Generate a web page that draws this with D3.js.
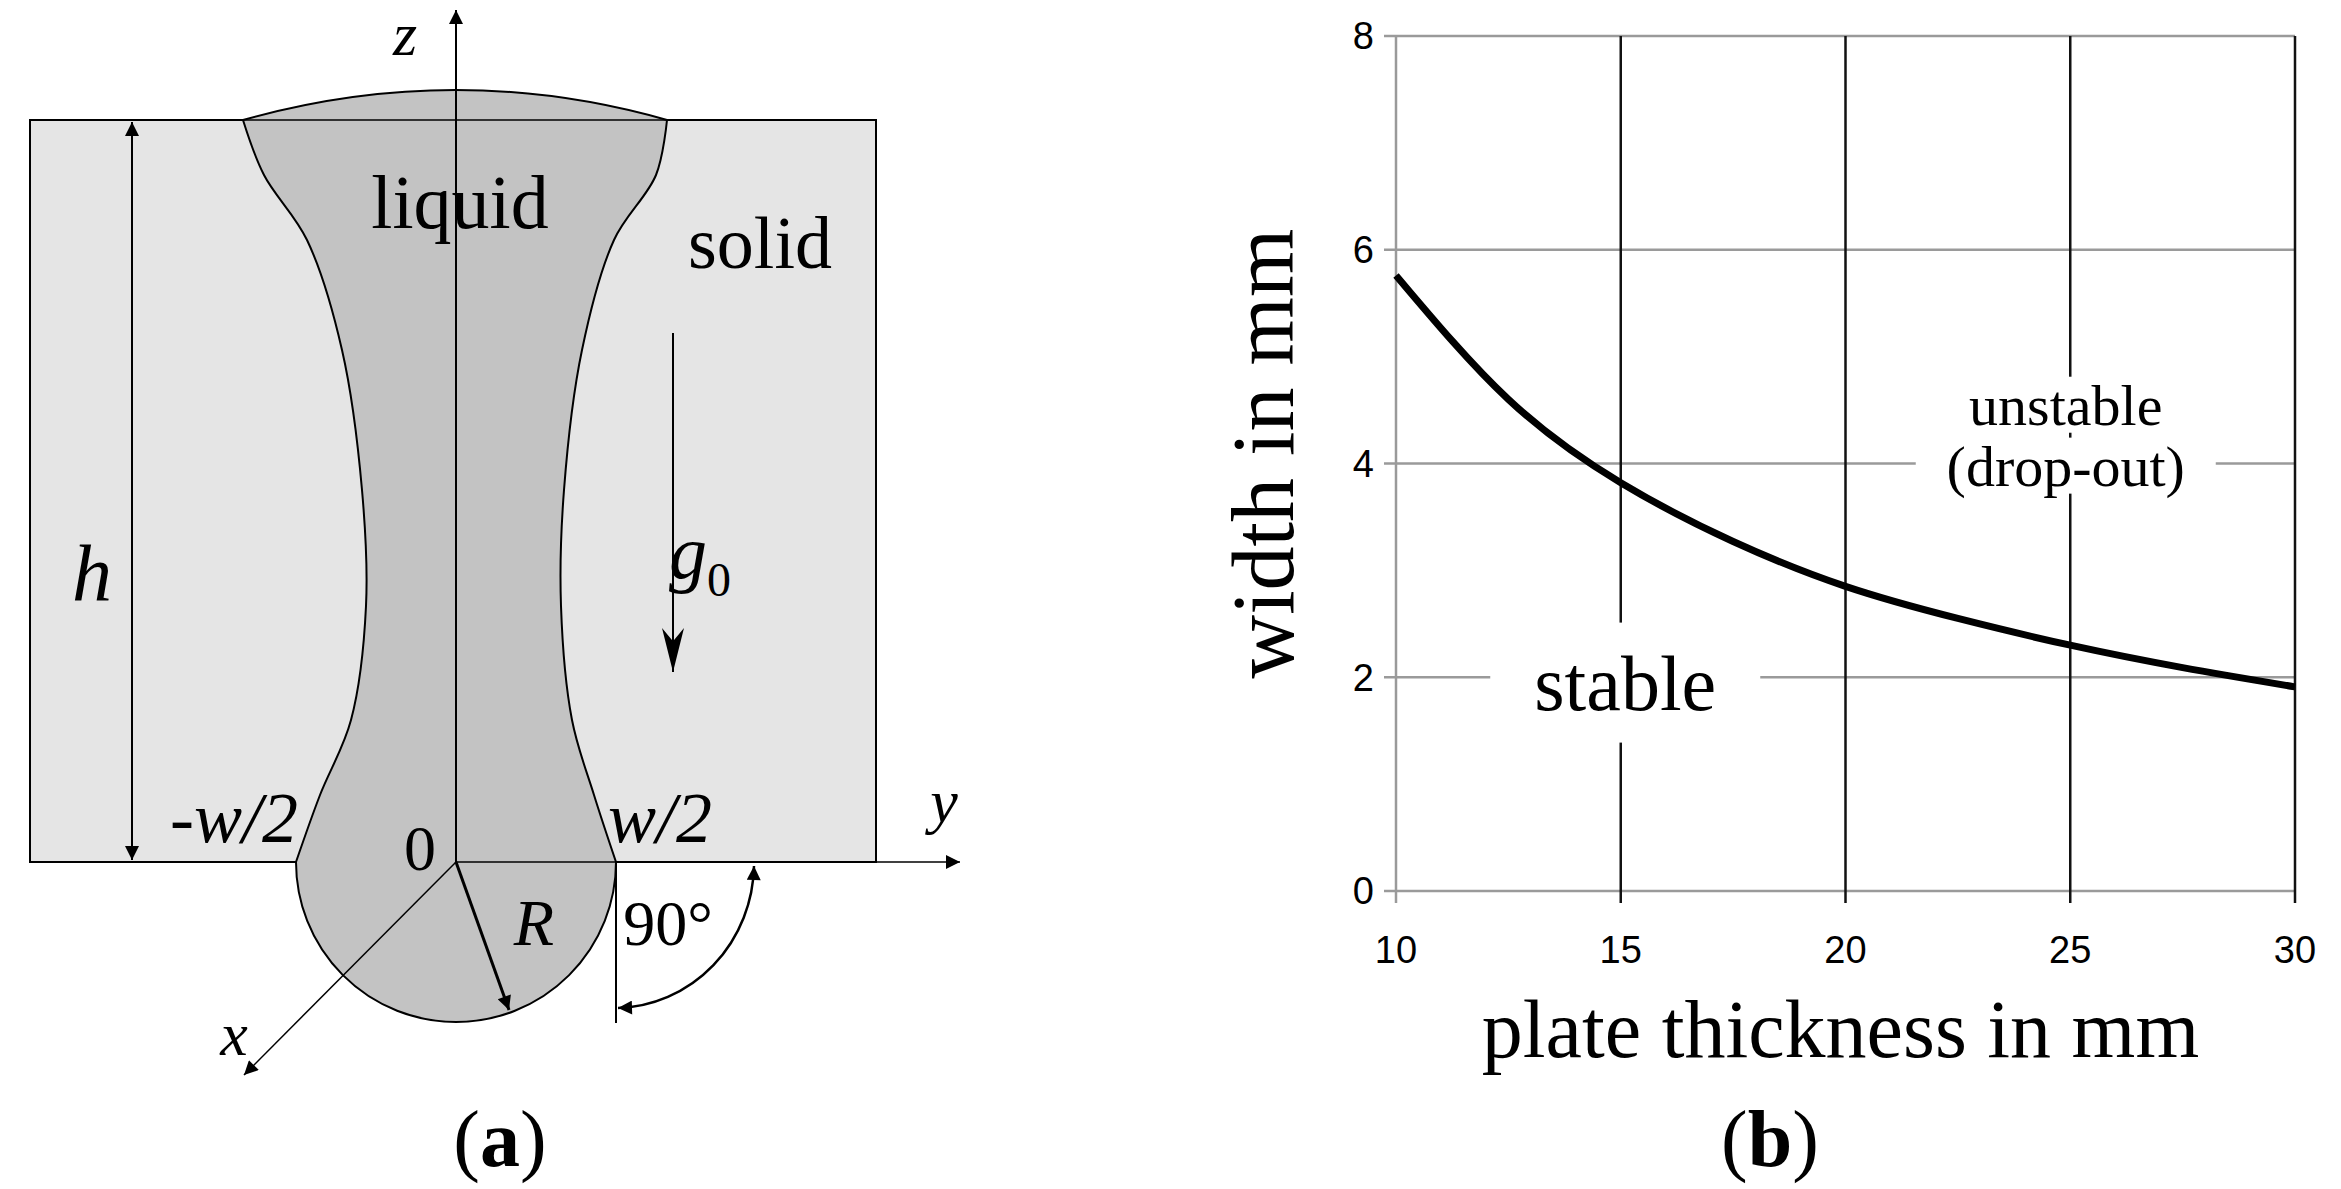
<!DOCTYPE html>
<html><head><meta charset="utf-8">
<script src="https://cdn.jsdelivr.net/npm/d3@7"></script>
<style>body{margin:0;background:#fff}</style></head>
<body><svg id="c" width="2341" height="1189"></svg>
<script>
const thickness = [10, 12.5, 15, 17.5, 20, 22.5, 25, 27.5, 30];
const widthMM   = [5.76, 4.6, 3.82, 3.27, 2.85, 2.55, 2.3, 2.09, 1.91];
const xTicks = [10, 15, 20, 25, 30];
const yTicks = [0, 2, 4, 6, 8];
const darkX = [15, 20, 25, 30];

const svg = d3.select("#c");
const serif = "'Liberation Serif','DejaVu Serif',serif";
const sans = "'Liberation Sans',Arial,sans-serif";

// ---------- (b) chart ----------
const x = d3.scaleLinear().domain([10, 30]).range([1396, 2295]);
const y = d3.scaleLinear().domain([0, 8]).range([891, 36]);
const g = svg.append("g");
g.selectAll(".hg").data(yTicks).join("line")
  .attr("x1", x(10) - 12).attr("x2", x(30)).attr("y1", d => y(d)).attr("y2", d => y(d))
  .attr("stroke", "#9a9a9a").attr("stroke-width", 2.5);
g.selectAll(".vg").data(xTicks).join("line")
  .attr("x1", d => x(d)).attr("x2", d => x(d)).attr("y1", y(8)).attr("y2", y(0) + 12)
  .attr("stroke", d => darkX.includes(d) ? "#111" : "#9a9a9a").attr("stroke-width", 2.5);
g.selectAll(".yl").data(yTicks).join("text")
  .attr("x", x(10) - 22).attr("y", d => y(d)).attr("dy", "0.35em")
  .attr("text-anchor", "end").attr("font-family", sans).attr("font-size", 38).text(d => d);
g.selectAll(".xl").data(xTicks).join("text")
  .attr("x", d => x(d)).attr("y", y(0) + 72)
  .attr("text-anchor", "middle").attr("font-family", sans).attr("font-size", 38).text(d => d);
function bgText(t, cx, cy, size, w, h) {
  g.append("rect").attr("x", cx - w / 2).attr("y", cy - h / 2).attr("width", w).attr("height", h).attr("fill", "#fff");
  g.append("text").attr("x", cx).attr("y", cy).attr("dy", "0.35em").attr("text-anchor", "middle")
    .attr("font-family", serif).attr("font-size", size).text(t);
}
bgText("stable", x(15.1), y(1.95), 78, 270, 120);
bgText("unstable", x(24.9), y(4.55), 58, 300, 56);
bgText("(drop-out)", x(24.9), y(3.98), 58, 300, 56);
g.append("path").datum(thickness.map((t, i) => [t, widthMM[i]]))
  .attr("d", d3.line().x(d => x(d[0])).y(d => y(d[1])).curve(d3.curveNatural))
  .attr("fill", "none").attr("stroke", "#000").attr("stroke-width", 7);
g.append("text").attr("transform", `translate(1262,${(y(0)+y(8))/2 - 10}) rotate(-90)`)
  .attr("text-anchor", "middle").attr("dy", "0.35em").attr("font-family", serif).attr("font-size", 88).text("width in  mm");
g.append("text").attr("x", (x(10)+x(30))/2 - 5).attr("y", 1057).attr("text-anchor", "middle")
  .attr("font-family", serif).attr("font-size", 82).text("plate thickness in mm");
function panelLabel(t, cx) {
  const tx = svg.append("text").attr("x", cx).attr("y", 1166).attr("text-anchor", "middle")
    .attr("font-family", serif).attr("font-size", 80);
  tx.append("tspan").text("(");
  tx.append("tspan").attr("font-weight", "bold").text(t);
  tx.append("tspan").text(")");
}
panelLabel("b", 1770);
panelLabel("a", 500);

// ---------- (a) diagram ----------
const a = svg.append("g");
const defs = svg.append("defs");
defs.append("marker").attr("id", "ah2").attr("viewBox", "0 0 10 10").attr("refX", 10).attr("refY", 5)
  .attr("markerWidth", 20).attr("markerHeight", 14).attr("markerUnits", "userSpaceOnUse").attr("orient", "auto-start-reverse")
  .append("path").attr("d", "M0,0 L10,5 L0,10 Z").attr("fill", "#000");
defs.append("marker").attr("id", "ahbig").attr("viewBox", "0 0 10 20").attr("refX", 5).attr("refY", 20)
  .attr("markerWidth", 22).attr("markerHeight", 56).attr("markerUnits", "userSpaceOnUse").attr("orient", "0")
  .append("path").attr("d", "M0,0 L5,6 L10,0 L5,20 Z").attr("fill", "#000");

const ox = 456, oy = 862, R = 160;
a.append("rect").attr("x", 30).attr("y", 120).attr("width", 846).attr("height", oy - 120)
  .attr("fill", "#e5e5e5").attr("stroke", "#000").attr("stroke-width", 2);
const left = [[243,120],[264,175],[307,240],[342,350],[362,490],[366,606],[351,720],[320,795],[296,862]];
const right = [[616,862],[594,795],[572,720],[561,606],[564,490],[582,350],[614,240],[656,175],[667,120]];
const lg = d3.line().curve(d3.curveCatmullRom);
a.append("path").attr("d", lg(left) + " A" + R + "," + R + " 0 0 0 616,862 " + lg(right).replace(/^M[-\d.,]+/, "") + " Q456,60 243,120 Z")
  .attr("fill", "#c3c3c3").attr("stroke", "#000").attr("stroke-width", 2);
a.append("line").attr("x1", 243).attr("x2", 667).attr("y1", 120).attr("y2", 120).attr("stroke", "#000").attr("stroke-width", 1.5);
a.append("line").attr("x1", ox).attr("y1", oy).attr("x2", ox).attr("y2", 10).attr("stroke", "#000").attr("stroke-width", 2).attr("marker-end", "url(#ah2)");
a.append("line").attr("x1", ox).attr("y1", oy).attr("x2", 960).attr("y2", oy).attr("stroke", "#000").attr("stroke-width", 1.5).attr("marker-end", "url(#ah2)");
a.append("line").attr("x1", ox).attr("y1", oy).attr("x2", 244).attr("y2", 1075).attr("stroke", "#000").attr("stroke-width", 1.5).attr("marker-end", "url(#ah2)");
a.append("line").attr("x1", 132).attr("y1", 122).attr("x2", 132).attr("y2", 860).attr("stroke", "#000").attr("stroke-width", 2)
  .attr("marker-start", "url(#ah2)").attr("marker-end", "url(#ah2)");
a.append("line").attr("x1", ox).attr("y1", oy).attr("x2", 509).attr("y2", 1010).attr("stroke", "#000").attr("stroke-width", 3).attr("marker-end", "url(#ah2)");
a.append("line").attr("x1", 673).attr("y1", 333).attr("x2", 673).attr("y2", 672).attr("stroke", "#000").attr("stroke-width", 2).attr("marker-end", "url(#ahbig)");
a.append("line").attr("x1", 616).attr("y1", oy).attr("x2", 616).attr("y2", 1023).attr("stroke", "#000").attr("stroke-width", 2);
a.append("path").attr("d", "M618,1008 A140,145 0 0 0 754,866").attr("fill", "none").attr("stroke", "#000").attr("stroke-width", 2.5)
  .attr("marker-start", "url(#ah2)").attr("marker-end", "url(#ah2)");
function t(s, xx, yy, size, italic, anchor) {
  return a.append("text").attr("x", xx).attr("y", yy).attr("font-family", serif).attr("font-size", size)
    .attr("font-style", italic ? "italic" : "normal").attr("text-anchor", anchor || "middle").text(s);
}
t("z", 405, 55, 62, true);
t("y", 944, 822, 62, true);
t("x", 234, 1055, 62, true);
t("h", 92, 600, 80, true);
t("liquid", 460, 228, 76, false);
t("solid", 760, 268, 74, false);
const gt = t("g", 700, 578, 76, true); gt.append("tspan").attr("font-style", "normal").attr("font-size", 48).attr("dy", 18).text("0");
t("-w/2", 234, 842, 72, true);
t("w/2", 660, 842, 72, true);
t("0", 420, 870, 64, false);
t("R", 534, 945, 66, true);
t("90°", 668, 945, 64, false);
</script></body></html>
